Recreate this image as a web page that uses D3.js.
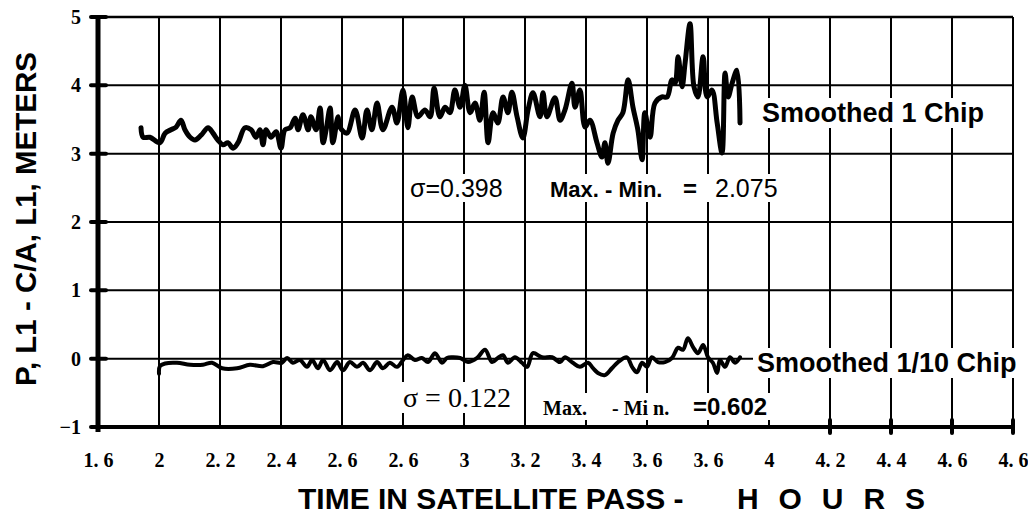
<!DOCTYPE html>
<html lang="en">
<head>
<meta charset="UTF-8">
<title>P, L1 - C/A, L1 vs time</title>
<script src="https://d3js.org/d3.v7.min.js"></script>
<style>
  body { margin: 0; background: #fff; }
  svg { display: block; }
</style>
</head>
<body>
<div id="chart"></div>
<script>
// x ticks (hours) and the labels as they are printed on the scan
const hourTicks = [1.6, 1.8, 2.0, 2.2, 2.4, 2.6, 2.8, 3.0, 3.2, 3.4, 3.6, 3.8, 4.0, 4.2, 4.4, 4.6];
const hourLabels = ["1. 6", "2", "2. 2", "2. 4", "2. 6", "2. 6", "3", "3. 2", "3. 4", "3. 6", "3. 6", "4", "4. 2", "4. 4", "4. 6", "4. 6"];
const meterTicks = [-1, 0, 1, 2, 3, 4, 5];

// Smoothed 1 Chip
const chip1Hours = [
  1.741, 1.748, 1.770, 1.803, 1.820, 1.839, 1.856, 1.872, 1.885, 1.902,
  1.918, 1.938, 1.961, 1.977, 1.993, 2.010, 2.026, 2.043, 2.059, 2.082,
  2.102, 2.118, 2.131, 2.141, 2.151, 2.167, 2.184, 2.200, 2.213, 2.230,
  2.246, 2.256, 2.272, 2.289, 2.298, 2.315, 2.328, 2.338, 2.348, 2.361,
  2.370, 2.387, 2.393, 2.416, 2.443, 2.466, 2.482, 2.498, 2.515, 2.534,
  2.564, 2.580, 2.600, 2.616, 2.630, 2.649, 2.672, 2.689, 2.702, 2.721,
  2.738, 2.754, 2.770, 2.787, 2.803, 2.820, 2.836, 2.852, 2.866, 2.879,
  2.895, 2.911, 2.928, 2.944, 2.957, 2.974, 2.993, 3.010, 3.026, 3.049,
  3.059, 3.072, 3.098, 3.115, 3.131, 3.154, 3.164, 3.180, 3.197, 3.213,
  3.236, 3.252, 3.262, 3.272, 3.289, 3.305, 3.321, 3.338, 3.354, 3.370,
  3.384, 3.393, 3.410, 3.426, 3.449, 3.466, 3.482, 3.492, 3.502, 3.515,
  3.525, 3.541, 3.554, 3.567, 3.584, 3.597, 3.613, 3.630, 3.646, 3.656,
  3.666, 3.679, 3.695, 3.705
];
const chip1Meters = [
  3.38, 3.24, 3.24, 3.16, 3.30, 3.35, 3.39, 3.49, 3.35, 3.24,
  3.20, 3.27, 3.38, 3.30, 3.20, 3.13, 3.16, 3.08, 3.16, 3.38,
  3.35, 3.24, 3.35, 3.13, 3.35, 3.24, 3.32, 3.08, 3.35, 3.38,
  3.52, 3.35, 3.57, 3.35, 3.54, 3.35, 3.67, 3.16, 3.35, 3.67,
  3.16, 3.54, 3.39, 3.30, 3.64, 3.23, 3.64, 3.35, 3.74, 3.35,
  3.68, 3.45, 3.93, 3.38, 3.83, 3.54, 3.64, 3.54, 3.96, 3.54,
  3.68, 3.60, 3.93, 3.68, 4.00, 3.60, 3.74, 3.49, 3.90, 3.16,
  3.60, 3.45, 3.83, 3.60, 3.90, 3.54, 3.23, 3.64, 3.89, 3.54,
  3.89, 3.54, 3.82, 3.49, 3.64, 4.03, 3.68, 3.93, 3.39, 3.49,
  3.16, 2.95, 3.16, 2.86, 3.30, 3.49, 3.60, 4.08, 3.68, 3.35,
  2.91, 3.60, 3.24, 3.74, 3.83, 3.83, 4.08, 4.03, 4.42, 3.98,
  4.33, 4.90, 3.98, 3.83, 4.42, 3.83, 3.93, 3.45, 3.01, 4.18,
  3.83, 4.03, 4.22, 3.45
];

// Smoothed 1/10 Chip
const chip10Hours = [
  1.800, 1.803, 1.820, 1.859, 1.902, 1.944, 1.974, 2.007, 2.056, 2.098,
  2.141, 2.174, 2.203, 2.220, 2.239, 2.262, 2.285, 2.302, 2.321, 2.338,
  2.361, 2.384, 2.403, 2.426, 2.449, 2.469, 2.492, 2.515, 2.534, 2.557,
  2.580, 2.600, 2.616, 2.639, 2.662, 2.682, 2.705, 2.728, 2.744, 2.761,
  2.787, 2.813, 2.843, 2.869, 2.892, 2.911, 2.928, 2.944, 2.967, 2.990,
  3.007, 3.026, 3.056, 3.089, 3.115, 3.131, 3.157, 3.180, 3.207, 3.223,
  3.239, 3.262, 3.285, 3.305, 3.334, 3.351, 3.367, 3.384, 3.400, 3.416,
  3.436, 3.459, 3.482, 3.502, 3.518, 3.534, 3.551, 3.567, 3.584, 3.600,
  3.616, 3.630, 3.639, 3.656, 3.672, 3.689, 3.705
];
const chip10Meters = [
  -0.22, -0.11, -0.07, -0.06, -0.09, -0.09, -0.06, -0.14, -0.14, -0.09,
  -0.11, -0.05, -0.06, 0.01, -0.06, -0.02, -0.12, -0.02, -0.14, -0.02,
  -0.17, -0.05, -0.17, -0.05, -0.12, -0.06, -0.17, -0.05, -0.14, -0.06,
  -0.12, -0.02, 0.05, -0.02, 0.01, -0.05, 0.08, -0.06, 0.01, 0.02,
  0.01, -0.05, 0.01, 0.13, -0.05, 0.01, 0.05, -0.06, 0.02, -0.06,
  -0.12, 0.08, 0.02, 0.02, -0.05, 0.02, -0.06, -0.12, -0.06, -0.14,
  -0.21, -0.24, -0.14, -0.05, 0.02, -0.12, -0.20, -0.06, -0.12, 0.02,
  -0.05, -0.05, 0.01, 0.16, 0.13, 0.30, 0.17, 0.08, 0.20, 0.02,
  -0.06, -0.21, -0.02, -0.12, 0.02, -0.06, 0.02
];

const width = 1028, height = 523;
const svg = d3.select("#chart").append("svg")
  .attr("width", width)
  .attr("height", height);

const x = d3.scaleLinear().domain([1.6, 4.6]).range([98, 1013]);
const y = d3.scaleLinear().domain([-1, 5]).range([427, 17]);

// grid
const grid = svg.append("g").attr("class", "grid");
hourTicks.slice(1).forEach(d => {
  grid.append("line")
    .attr("x1", x(d)).attr("x2", x(d))
    .attr("y1", y(5)).attr("y2", y(-1))
    .attr("stroke", "#000").attr("stroke-width", 2);
});
meterTicks.slice(1).forEach(d => {
  grid.append("line")
    .attr("x1", x(1.6)).attr("x2", x(4.6))
    .attr("y1", y(d)).attr("y2", y(d))
    .attr("stroke", "#000").attr("stroke-width", d === 5 ? 2.4 : 2);
});

// y axis labels
const yAxis = svg.append("g")
  .attr("transform", `translate(${x(1.6)},0)`)
  .call(d3.axisLeft(y).tickValues(meterTicks).tickSize(0).tickPadding(17)
    .tickFormat(d3.format("d")));
yAxis.select(".domain").remove();
yAxis.selectAll("text")
  .attr("font-family", "Liberation Serif")
  .attr("font-weight", "bold")
  .attr("font-size", 20)
  .attr("fill", "#000");

// x axis labels
const xAxis = svg.append("g")
  .attr("transform", `translate(0,${y(-1)})`)
  .call(d3.axisBottom(x).tickValues(hourTicks).tickSize(0).tickPadding(26)
    .tickFormat((d, i) => hourLabels[i]));
xAxis.select(".domain").remove();
xAxis.selectAll("text")
  .attr("font-family", "Liberation Serif")
  .attr("font-weight", "bold")
  .attr("font-size", 20)
  .attr("fill", "#000");

// heavy left and bottom rules
svg.append("rect")
  .attr("x", x(1.6) - 2.5).attr("y", y(5) - 2)
  .attr("width", 5).attr("height", y(-1) - y(5) + 7)
  .attr("fill", "#000");
svg.append("rect")
  .attr("x", x(1.6) - 6).attr("y", y(-1) - 2)
  .attr("width", x(4.6) - x(1.6) + 7).attr("height", 4)
  .attr("fill", "#000");

// tick blobs on the left rule
svg.append("g").selectAll("line")
  .data(meterTicks)
  .enter().append("line")
  .attr("x1", x(1.6) - 7).attr("x2", x(1.6) + 8)
  .attr("y1", d => y(d)).attr("y2", d => y(d))
  .attr("stroke", "#000").attr("stroke-width", 4)
  .attr("stroke-linecap", "round");
// tick blobs on the right part of the bottom rule
svg.append("g").selectAll("line")
  .data(hourTicks.slice(12))
  .enter().append("line")
  .attr("x1", d => x(d)).attr("x2", d => x(d))
  .attr("y1", y(-1) - 7).attr("y2", y(-1) + 6)
  .attr("stroke", "#000").attr("stroke-width", 4)
  .attr("stroke-linecap", "round");

// series
const line = d3.line()
  .x(d => x(d[0]))
  .y(d => y(d[1]))
  .curve(d3.curveCatmullRom.alpha(0.5));

svg.append("path")
  .datum(d3.zip(chip1Hours, chip1Meters))
  .attr("d", line)
  .attr("fill", "none")
  .attr("stroke", "#000")
  .attr("stroke-width", 5)
  .attr("stroke-linejoin", "round")
  .attr("stroke-linecap", "round");

svg.append("path")
  .datum(d3.zip(chip10Hours, chip10Meters))
  .attr("d", line)
  .attr("fill", "none")
  .attr("stroke", "#000")
  .attr("stroke-width", 4)
  .attr("stroke-linejoin", "round")
  .attr("stroke-linecap", "round");

// text labels, each with a white box hiding the grid behind it
function label(py, parts, pad) {
  const g = svg.append("g");
  const t = g.append("text").attr("y", py).attr("fill", "#000");
  parts.forEach(p => {
    t.append("tspan")
      .attr("x", p.x)
      .attr("font-family", p.family || "Liberation Sans")
      .attr("font-weight", p.weight || "bold")
      .attr("font-size", p.size)
      .text(p.text);
  });
  const b = t.node().getBBox();
  g.insert("rect", "text")
    .attr("x", b.x - pad).attr("y", b.y)
    .attr("width", b.width + pad * 2).attr("height", b.height)
    .attr("fill", "#fff");
}

label(122, [{ x: 762, text: "Smoothed 1 Chip", size: 27 }], 4);
label(372, [{ x: 757, text: "Smoothed 1/10 Chip", size: 27 }], 4);
label(197, [{ x: 410, text: "σ=0.398", size: 25, weight: "normal" }], 4);
label(197, [
  { x: 550, text: "Max. - Min.", size: 22 },
  { x: 683, text: "=", size: 24 },
  { x: 715, text: "2.075", size: 25, weight: "normal" }
], 4);
label(407, [{ x: 403, text: "σ = 0.122", size: 28, weight: "normal", family: "Liberation Serif" }], 4);
label(415, [
  { x: 543, text: "Max.", size: 20, family: "Liberation Serif" },
  { x: 612, text: "- Mi n.", size: 20, family: "Liberation Serif" },
  { x: 693, text: "=0.602", size: 24 }
], 3);

// axis titles
svg.append("text")
  .attr("transform", `translate(36,219) rotate(-90)`)
  .attr("text-anchor", "middle")
  .attr("font-family", "Liberation Sans")
  .attr("font-weight", "bold")
  .attr("font-size", 29.5)
  .text("P, L1 - C/A, L1, METERS");

svg.append("text")
  .attr("x", 298).attr("y", 509)
  .attr("font-family", "Liberation Sans")
  .attr("font-weight", "bold")
  .attr("font-size", 30)
  .text("TIME IN SATELLITE PASS -");
svg.append("text")
  .attr("x", 737).attr("y", 509)
  .attr("font-family", "Liberation Sans")
  .attr("font-weight", "bold")
  .attr("font-size", 30)
  .attr("textLength", 188)
  .attr("lengthAdjust", "spacing")
  .text("H O U R S");
</script>
</body>
</html>
